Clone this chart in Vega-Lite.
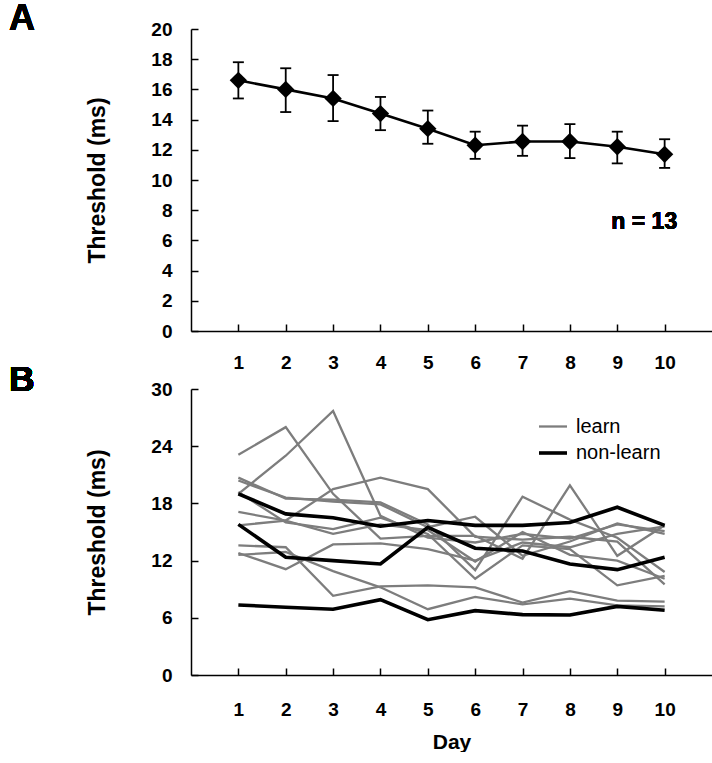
{
  "$schema": "https://vega.github.io/schema/vega-lite/v6.json",
  "background": "white",
  "padding": {"left": 8, "top": 0, "right": 0, "bottom": 0},
  "autosize": {"type": "pad"},
  "bounds": "flush",
  "spacing": 58,
  "config": {
    "font": "Liberation Sans",
    "view": {"stroke": null},
    "axis": {
      "domainColor": "black", "domainWidth": 1.5, "tickColor": "black", "tickWidth": 1.5,
      "tickSize": -7, "grid": false, "labelColor": "black", "titleColor": "black", "labelOverlap": false,
      "labelFont": "Liberation Sans", "titleFont": "Liberation Sans",
      "labelFontWeight": "bold", "titleFontWeight": "bold", "labelFontSize": 19, "titleFontSize": 23
    }
  },
  "datasets": {
    "mean": [
      {"day": 1, "threshold": 16.6, "lo": 15.4, "hi": 17.8},
      {"day": 2, "threshold": 16.0, "lo": 14.5, "hi": 17.4},
      {"day": 3, "threshold": 15.4, "lo": 13.9, "hi": 16.95},
      {"day": 4, "threshold": 14.4, "lo": 13.3, "hi": 15.5},
      {"day": 5, "threshold": 13.4, "lo": 12.4, "hi": 14.6},
      {"day": 6, "threshold": 12.3, "lo": 11.4, "hi": 13.2},
      {"day": 7, "threshold": 12.55, "lo": 11.6, "hi": 13.6},
      {"day": 8, "threshold": 12.55, "lo": 11.45, "hi": 13.7},
      {"day": 9, "threshold": 12.2, "lo": 11.1, "hi": 13.2},
      {"day": 10, "threshold": 11.7, "lo": 10.8, "hi": 12.7}
    ],
    "subjects": [
      {"id": "A", "group": "learn", "day": 1, "threshold": 23.1}, {"id": "A", "group": "learn", "day": 2, "threshold": 26.0}, {"id": "A", "group": "learn", "day": 3, "threshold": 19.0}, {"id": "A", "group": "learn", "day": 4, "threshold": 14.3}, {"id": "A", "group": "learn", "day": 5, "threshold": 14.6}, {"id": "A", "group": "learn", "day": 6, "threshold": 14.6}, {"id": "A", "group": "learn", "day": 7, "threshold": 12.2}, {"id": "A", "group": "learn", "day": 8, "threshold": 19.9}, {"id": "A", "group": "learn", "day": 9, "threshold": 12.5}, {"id": "A", "group": "learn", "day": 10, "threshold": 15.7},
      {"id": "D", "group": "learn", "day": 1, "threshold": 19.0}, {"id": "D", "group": "learn", "day": 2, "threshold": 23.0}, {"id": "D", "group": "learn", "day": 3, "threshold": 27.7}, {"id": "D", "group": "learn", "day": 4, "threshold": 16.7}, {"id": "D", "group": "learn", "day": 5, "threshold": 14.4}, {"id": "D", "group": "learn", "day": 6, "threshold": 13.9}, {"id": "D", "group": "learn", "day": 7, "threshold": 14.8}, {"id": "D", "group": "learn", "day": 8, "threshold": 14.3}, {"id": "D", "group": "learn", "day": 9, "threshold": 15.8}, {"id": "D", "group": "learn", "day": 10, "threshold": 15.1},
      {"id": "B", "group": "learn", "day": 1, "threshold": 20.7}, {"id": "B", "group": "learn", "day": 2, "threshold": 18.5}, {"id": "B", "group": "learn", "day": 3, "threshold": 18.4}, {"id": "B", "group": "learn", "day": 4, "threshold": 18.1}, {"id": "B", "group": "learn", "day": 5, "threshold": 15.8}, {"id": "B", "group": "learn", "day": 6, "threshold": 11.0}, {"id": "B", "group": "learn", "day": 7, "threshold": 18.7}, {"id": "B", "group": "learn", "day": 8, "threshold": 16.3}, {"id": "B", "group": "learn", "day": 9, "threshold": 14.4}, {"id": "B", "group": "learn", "day": 10, "threshold": 10.8},
      {"id": "C", "group": "learn", "day": 1, "threshold": 20.4}, {"id": "C", "group": "learn", "day": 2, "threshold": 18.6}, {"id": "C", "group": "learn", "day": 3, "threshold": 18.2}, {"id": "C", "group": "learn", "day": 4, "threshold": 17.9}, {"id": "C", "group": "learn", "day": 5, "threshold": 15.5}, {"id": "C", "group": "learn", "day": 6, "threshold": 16.6}, {"id": "C", "group": "learn", "day": 7, "threshold": 12.5}, {"id": "C", "group": "learn", "day": 8, "threshold": 14.0}, {"id": "C", "group": "learn", "day": 9, "threshold": 15.9}, {"id": "C", "group": "learn", "day": 10, "threshold": 14.8},
      {"id": "E", "group": "learn", "day": 1, "threshold": 17.1}, {"id": "E", "group": "learn", "day": 2, "threshold": 16.2}, {"id": "E", "group": "learn", "day": 3, "threshold": 19.5}, {"id": "E", "group": "learn", "day": 4, "threshold": 20.7}, {"id": "E", "group": "learn", "day": 5, "threshold": 19.5}, {"id": "E", "group": "learn", "day": 6, "threshold": 14.5}, {"id": "E", "group": "learn", "day": 7, "threshold": 14.2}, {"id": "E", "group": "learn", "day": 8, "threshold": 14.5}, {"id": "E", "group": "learn", "day": 9, "threshold": 14.0}, {"id": "E", "group": "learn", "day": 10, "threshold": 9.5},
      {"id": "F", "group": "learn", "day": 1, "threshold": 15.7}, {"id": "F", "group": "learn", "day": 2, "threshold": 16.2}, {"id": "F", "group": "learn", "day": 3, "threshold": 14.8}, {"id": "F", "group": "learn", "day": 4, "threshold": 15.8}, {"id": "F", "group": "learn", "day": 5, "threshold": 15.2}, {"id": "F", "group": "learn", "day": 6, "threshold": 11.9}, {"id": "F", "group": "learn", "day": 7, "threshold": 15.0}, {"id": "F", "group": "learn", "day": 8, "threshold": 12.6}, {"id": "F", "group": "learn", "day": 9, "threshold": 12.0}, {"id": "F", "group": "learn", "day": 10, "threshold": 10.1},
      {"id": "H", "group": "learn", "day": 1, "threshold": 19.2}, {"id": "H", "group": "learn", "day": 2, "threshold": 16.0}, {"id": "H", "group": "learn", "day": 3, "threshold": 15.3}, {"id": "H", "group": "learn", "day": 4, "threshold": 16.5}, {"id": "H", "group": "learn", "day": 5, "threshold": 14.8}, {"id": "H", "group": "learn", "day": 6, "threshold": 10.1}, {"id": "H", "group": "learn", "day": 7, "threshold": 13.6}, {"id": "H", "group": "learn", "day": 8, "threshold": 13.2}, {"id": "H", "group": "learn", "day": 9, "threshold": 9.4}, {"id": "H", "group": "learn", "day": 10, "threshold": 10.4},
      {"id": "G2", "group": "learn", "day": 1, "threshold": 12.8}, {"id": "G2", "group": "learn", "day": 2, "threshold": 11.1}, {"id": "G2", "group": "learn", "day": 3, "threshold": 13.7}, {"id": "G2", "group": "learn", "day": 4, "threshold": 13.8}, {"id": "G2", "group": "learn", "day": 5, "threshold": 13.2}, {"id": "G2", "group": "learn", "day": 6, "threshold": 12.0}, {"id": "G2", "group": "learn", "day": 7, "threshold": 13.9}, {"id": "G2", "group": "learn", "day": 8, "threshold": 13.4}, {"id": "G2", "group": "learn", "day": 9, "threshold": 14.8}, {"id": "G2", "group": "learn", "day": 10, "threshold": 15.6},
      {"id": "G1", "group": "learn", "day": 1, "threshold": 13.6}, {"id": "G1", "group": "learn", "day": 2, "threshold": 13.4}, {"id": "G1", "group": "learn", "day": 3, "threshold": 8.3}, {"id": "G1", "group": "learn", "day": 4, "threshold": 9.3}, {"id": "G1", "group": "learn", "day": 5, "threshold": 9.4}, {"id": "G1", "group": "learn", "day": 6, "threshold": 9.2}, {"id": "G1", "group": "learn", "day": 7, "threshold": 7.6}, {"id": "G1", "group": "learn", "day": 8, "threshold": 8.8}, {"id": "G1", "group": "learn", "day": 9, "threshold": 7.8}, {"id": "G1", "group": "learn", "day": 10, "threshold": 7.7},
      {"id": "G3", "group": "learn", "day": 1, "threshold": 12.6}, {"id": "G3", "group": "learn", "day": 2, "threshold": 12.9}, {"id": "G3", "group": "learn", "day": 3, "threshold": 10.9}, {"id": "G3", "group": "learn", "day": 4, "threshold": 9.2}, {"id": "G3", "group": "learn", "day": 5, "threshold": 6.9}, {"id": "G3", "group": "learn", "day": 6, "threshold": 8.2}, {"id": "G3", "group": "learn", "day": 7, "threshold": 7.4}, {"id": "G3", "group": "learn", "day": 8, "threshold": 8.0}, {"id": "G3", "group": "learn", "day": 9, "threshold": 7.3}, {"id": "G3", "group": "learn", "day": 10, "threshold": 7.2},
      {"id": "N1", "group": "non-learn", "day": 1, "threshold": 19.0}, {"id": "N1", "group": "non-learn", "day": 2, "threshold": 16.9}, {"id": "N1", "group": "non-learn", "day": 3, "threshold": 16.5}, {"id": "N1", "group": "non-learn", "day": 4, "threshold": 15.6}, {"id": "N1", "group": "non-learn", "day": 5, "threshold": 16.2}, {"id": "N1", "group": "non-learn", "day": 6, "threshold": 15.7}, {"id": "N1", "group": "non-learn", "day": 7, "threshold": 15.7}, {"id": "N1", "group": "non-learn", "day": 8, "threshold": 16.0}, {"id": "N1", "group": "non-learn", "day": 9, "threshold": 17.6}, {"id": "N1", "group": "non-learn", "day": 10, "threshold": 15.7},
      {"id": "N2", "group": "non-learn", "day": 1, "threshold": 15.8}, {"id": "N2", "group": "non-learn", "day": 2, "threshold": 12.35}, {"id": "N2", "group": "non-learn", "day": 3, "threshold": 12.0}, {"id": "N2", "group": "non-learn", "day": 4, "threshold": 11.65}, {"id": "N2", "group": "non-learn", "day": 5, "threshold": 15.5}, {"id": "N2", "group": "non-learn", "day": 6, "threshold": 13.3}, {"id": "N2", "group": "non-learn", "day": 7, "threshold": 13.0}, {"id": "N2", "group": "non-learn", "day": 8, "threshold": 11.65}, {"id": "N2", "group": "non-learn", "day": 9, "threshold": 11.05}, {"id": "N2", "group": "non-learn", "day": 10, "threshold": 12.35},
      {"id": "N3", "group": "non-learn", "day": 1, "threshold": 7.35}, {"id": "N3", "group": "non-learn", "day": 2, "threshold": 7.1}, {"id": "N3", "group": "non-learn", "day": 3, "threshold": 6.9}, {"id": "N3", "group": "non-learn", "day": 4, "threshold": 7.9}, {"id": "N3", "group": "non-learn", "day": 5, "threshold": 5.8}, {"id": "N3", "group": "non-learn", "day": 6, "threshold": 6.75}, {"id": "N3", "group": "non-learn", "day": 7, "threshold": 6.33}, {"id": "N3", "group": "non-learn", "day": 8, "threshold": 6.3}, {"id": "N3", "group": "non-learn", "day": 9, "threshold": 7.2}, {"id": "N3", "group": "non-learn", "day": 10, "threshold": 6.8}
    ]
  },
  "vconcat": [
    {
      "width": 521,
      "height": 302,
      "data": {"name": "mean"},
      "encoding": {
        "x": {"field": "day", "type": "quantitative", "scale": {"domain": [0, 11], "nice": false},
              "axis": {"values": [1, 2, 3, 4, 5, 6, 7, 8, 9, 10], "title": null, "labelPadding": 29, "labelOverlap": false}}
      },
      "layer": [
        {
          "mark": {"type": "line", "color": "black", "strokeWidth": 2.6},
          "encoding": {"y": {"field": "threshold", "type": "quantitative", "scale": {"domain": [0, 20], "nice": false},
                  "axis": {"values": [0, 2, 4, 6, 8, 10, 12, 14, 16, 18, 20], "title": "Threshold (ms)", "labelPadding": 26, "titlePadding": 41, "labelOverlap": false}}}
        },
        {
          "mark": {"type": "rule", "color": "black", "strokeWidth": 1.8},
          "encoding": {
            "y": {"field": "lo", "type": "quantitative",
                  "axis": {"values": [0, 2, 4, 6, 8, 10, 12, 14, 16, 18, 20], "title": "Threshold (ms)", "labelPadding": 26, "titlePadding": 41, "labelOverlap": false}},
            "y2": {"field": "hi"}
          }
        },
        {
          "mark": {"type": "tick", "orient": "horizontal", "color": "black", "size": 11, "thickness": 1.8, "opacity": 1},
          "encoding": {"y": {"field": "lo", "type": "quantitative",
                  "axis": {"values": [0, 2, 4, 6, 8, 10, 12, 14, 16, 18, 20], "title": "Threshold (ms)", "labelPadding": 26, "titlePadding": 41, "labelOverlap": false}}}
        },
        {
          "mark": {"type": "tick", "orient": "horizontal", "color": "black", "size": 11, "thickness": 1.8, "opacity": 1},
          "encoding": {"y": {"field": "hi", "type": "quantitative",
                  "axis": {"values": [0, 2, 4, 6, 8, 10, 12, 14, 16, 18, 20], "title": "Threshold (ms)", "labelPadding": 26, "titlePadding": 41, "labelOverlap": false}}}
        },
        {
          "mark": {"type": "point", "shape": "diamond", "filled": true, "color": "black", "opacity": 1, "size": 300},
          "encoding": {"y": {"field": "threshold", "type": "quantitative",
                  "axis": {"values": [0, 2, 4, 6, 8, 10, 12, 14, 16, 18, 20], "title": "Threshold (ms)", "labelPadding": 26, "titlePadding": 41, "labelOverlap": false}}}
        },
        {
          "mark": {"type": "text", "text": "n = 13", "font": "Liberation Sans", "fontSize": 23, "fontWeight": "bold", "color": "black", "align": "center", "baseline": "middle"},
          "encoding": {"x": {"datum": 9.57}, "y": {"datum": 7.2,
                  "axis": {"values": [0, 2, 4, 6, 8, 10, 12, 14, 16, 18, 20], "title": "Threshold (ms)", "labelPadding": 26, "titlePadding": 41, "labelOverlap": false}}}
        },
        {
          "mark": {"type": "text", "text": "A", "font": "Liberation Sans", "fontSize": 36, "fontWeight": "bold", "color": "black", "align": "center", "baseline": "alphabetic"},
          "encoding": {"x": {"datum": -3.57}, "y": {"datum": 19.95,
                  "axis": {"values": [0, 2, 4, 6, 8, 10, 12, 14, 16, 18, 20], "title": "Threshold (ms)", "labelPadding": 26, "titlePadding": 41, "labelOverlap": false}}}
        }
      ]
    },
    {
      "width": 521,
      "height": 286,
      "data": {"name": "subjects"},
      "encoding": {
        "x": {"field": "day", "type": "quantitative", "scale": {"domain": [0, 11], "nice": false},
              "axis": {"values": [1, 2, 3, 4, 5, 6, 7, 8, 9, 10], "title": "Day", "titleFontSize": 21, "labelPadding": 32, "titlePadding": 12, "labelOverlap": false}}
      },
      "layer": [
        {
          "mark": {"type": "line"},
          "encoding": {
            "y": {"field": "threshold", "type": "quantitative", "scale": {"domain": [0, 30], "nice": false},
                  "axis": {"values": [0, 6, 12, 18, 24, 30], "title": "Threshold (ms)", "labelPadding": 26, "titlePadding": 41, "labelOverlap": false}},
            "detail": {"field": "id"},
            "color": {"field": "group", "type": "nominal", "scale": {"domain": ["learn", "non-learn"], "range": ["#7d7d7d", "#000000"]},
                      "legend": {"title": null, "orient": "none", "legendX": 346, "legendY": 382, "symbolType": "stroke", "symbolSize": 784,
                                 "labelFont": "Liberation Sans", "labelFontSize": 20, "labelColor": "black", "labelOffset": 7, "rowPadding": -5}},
            "strokeWidth": {"field": "group", "type": "nominal", "scale": {"domain": ["learn", "non-learn"], "range": [2.3, 3.6]}, "legend": null}
          }
        },
        {
          "mark": {"type": "text", "text": "B", "font": "Liberation Sans", "fontSize": 35, "fontWeight": "bold", "color": "black", "align": "center", "baseline": "alphabetic"},
          "encoding": {"x": {"datum": -3.57}, "y": {"datum": 29.8}}
        }
      ]
    }
  ]
}
